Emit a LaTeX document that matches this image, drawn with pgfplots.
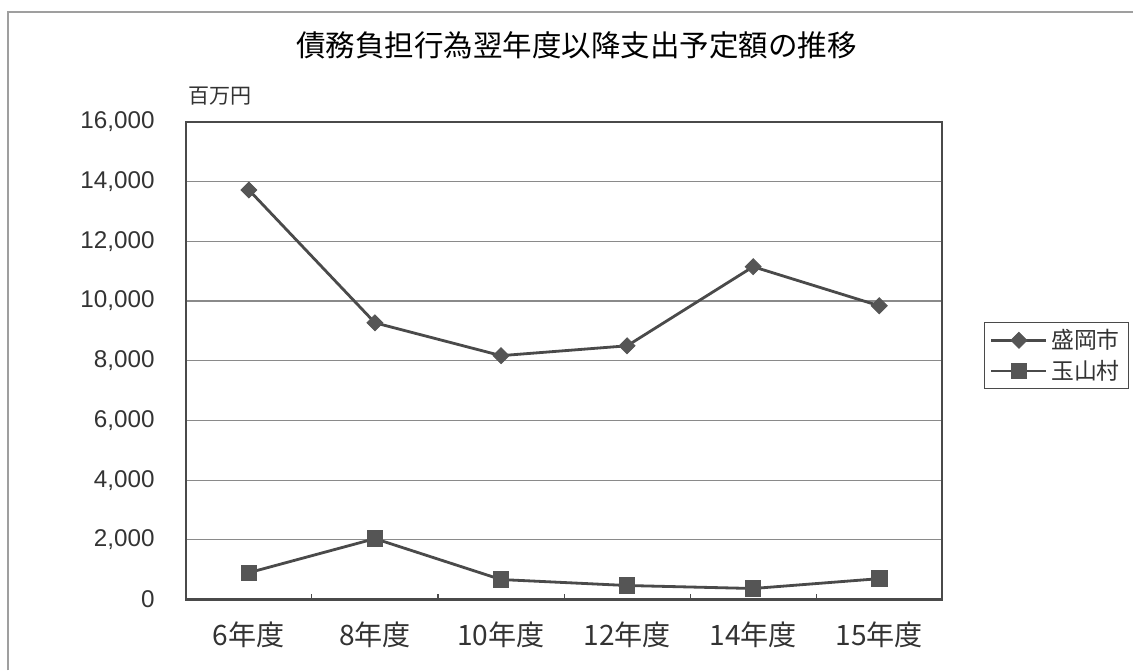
\documentclass[border=0pt]{standalone}
\usepackage{fontspec}
\usepackage{pgfplots}
\pgfplotsset{compat=1.18}
\setmainfont{Noto Sans CJK JP}
\newfontfamily\arial{Liberation Sans}
\definecolor{linegray}{HTML}{4A4A4A}
\definecolor{markgray}{HTML}{555555}
\definecolor{gridgray}{HTML}{8A8A8A}

\begin{document}
\begin{tikzpicture}
% page: 1134 x 671 px, 1 px = 0.02 cm
\path (0,0) rectangle (22.68,-13.42);
\draw[gray!75, line width=1pt] (0.16,-13.42) -- (0.16,-0.24) -- (22.68,-0.24);
\node at (11.54,-0.9) {\fontsize{16.8}{20}\selectfont 債務負担行為翌年度以降支出予定額の推移};

\begin{axis}[
at={(3.72cm,-12cm)}, anchor=south west,
scale only axis,
width=15.14cm, height=9.56cm,
xmin=-0.5, xmax=5.5,
ymin=0, ymax=16000,
xtick={0,1,2,3,4,5},
xticklabels={6年度,8年度,10年度,12年度,14年度,15年度},
ytick={0,2000,4000,6000,8000,10000,12000,14000,16000},
scaled y ticks=false,
/pgf/number format/.cd, 1000 sep={,}, assume math mode=true,
/pgfplots/.cd,
ymajorgrids,
grid style={gridgray, line width=0.6pt},
axis line style={linegray, line width=1.3pt},
major tick length=0pt,
extra x ticks={0.5,1.5,2.5,3.5,4.5},
extra x tick labels={},
extra x tick style={major tick length=0.12cm, tick align=inside, tick style={linegray, line width=0.6pt}},
xtick pos=bottom, ytick pos=left,
xticklabel style={anchor=center, inner sep=0pt, yshift=-0.7cm, font=\fontsize{16}{18}\selectfont, text=black!80},
yticklabel style={anchor=east, inner sep=0pt, xshift=-0.62cm, font=\arial\fontsize{13.8}{16}\selectfont, text=black!80},
clip=false,
legend style={at={(rel axis cs:1.0555,0.5816)}, anchor=north west,
  draw=linegray, line width=0.6pt, fill=white,
  font=\fontsize{13}{15}\selectfont, text=black!80,
  inner xsep=3pt, inner ysep=2pt, row sep=1pt,
  nodes={inner sep=2pt}},
legend cell align=left,
legend image code/.code={%
  \draw[mark repeat=2, mark phase=2, #1] plot coordinates {(0cm,0cm) (0.55cm,0cm) (1.1cm,0cm)};},
]
\node[font=\fontsize{12}{14}\selectfont, text=black!80] at (rel axis cs:0.045,1.054) {百万円};

\addplot[color=linegray, line width=1.6pt, mark=square*, mark size=3.2pt,
  mark options={rotate=45, fill=markgray, draw=markgray, line width=0.5pt}]
coordinates {(0,13720) (1,9270) (2,8170) (3,8500) (4,11150) (5,9840)};
\addlegendentry{盛岡市}

\addplot[color=linegray, line width=1.6pt, mark=square*, mark size=4.4pt,
  mark options={fill=markgray, draw=markgray, line width=0.5pt}]
coordinates {(0,900) (1,2040) (2,670) (3,470) (4,370) (5,700)};
\addlegendentry{玉山村}
\end{axis}
\end{tikzpicture}
\end{document}
